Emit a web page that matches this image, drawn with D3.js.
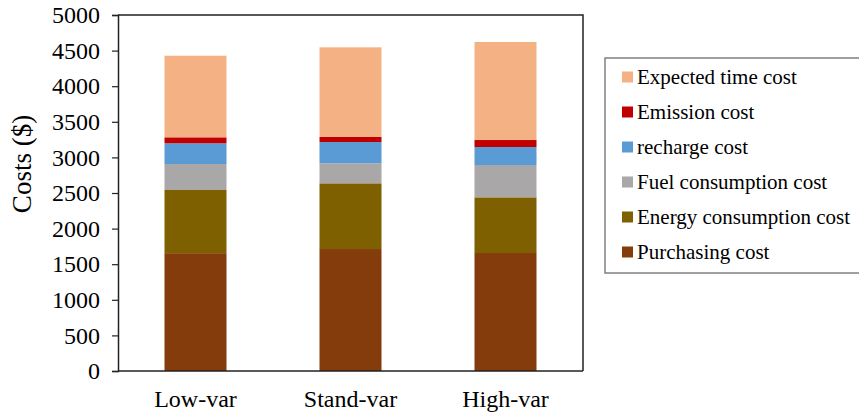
<!DOCTYPE html>
<html>
<head>
<meta charset="utf-8">
<script src="https://cdn.jsdelivr.net/npm/d3@7"></script>
<style>
  html, body { margin: 0; padding: 0; background: #fff; }
  svg { display: block; }
  text { font-family: "Liberation Serif", "Times New Roman", serif; fill: #000; }
</style>
</head>
<body>
<div id="chart"></div>
<script>
// ---- data ----
const categories = ["Low-var", "Stand-var", "High-var"];
const purchasingCost = [1655, 1713, 1657];
const energyCost = [887, 923, 782];
const fuelCost = [365, 281, 454];
const rechargeCost = [291, 299, 253];
const emissionCost = [84, 71, 98];
const expectedTimeCost = [1146, 1259, 1377];
const seriesNames = ["Purchasing cost", "Energy consumption cost", "Fuel consumption cost", "recharge cost", "Emission cost", "Expected time cost"];
const seriesColors = ["#843C0C", "#7F6000", "#A9A7A7", "#5B9BD5", "#C00000", "#F4B183"];
const yTicks = [0, 500, 1000, 1500, 2000, 2500, 3000, 3500, 4000, 4500, 5000];
const yLabel = "Costs ($)";

const seriesValues = [purchasingCost, energyCost, fuelCost, rechargeCost, emissionCost, expectedTimeCost];

const FONT = "'Liberation Serif', 'Times New Roman', serif";
const W = 859, H = 418;
const plot = { left: 118, right: 583, top: 15, bottom: 371 };

const svg = d3.select("#chart").append("svg").attr("width", W).attr("height", H);

const rows = categories.map((c, i) => {
  const r = { category: c };
  seriesNames.forEach((s, k) => r[s] = seriesValues[k][i]);
  return r;
});
const stacked = d3.stack().keys(seriesNames)(rows);

const x = d3.scaleBand().domain(categories).range([plot.left, plot.right]).paddingInner(0.6).paddingOuter(0.3);
const y = d3.scaleLinear().domain([0, 5000]).range([plot.bottom, plot.top]);

// bars
svg.append("g").selectAll("g").data(stacked).join("g")
  .attr("fill", (d, i) => seriesColors[i])
  .selectAll("rect").data(d => d).join("rect")
  .attr("x", d => x(d.data.category))
  .attr("width", x.bandwidth())
  .attr("y", d => y(d[1]))
  .attr("height", d => y(d[0]) - y(d[1]));

// frame (top & right)
svg.append("path")
  .attr("d", `M${plot.left},${plot.top}H${plot.right}V${plot.bottom}`)
  .attr("fill", "none").attr("stroke", "#222").attr("stroke-width", 1.5);

// y axis
const yAxis = svg.append("g").attr("transform", `translate(${plot.left},0)`)
  .call(d3.axisLeft(y).tickValues(yTicks).tickSize(6).tickPadding(12).tickFormat(d3.format("d")));
yAxis.attr("font-family", null);
yAxis.select(".domain").attr("stroke", "#222").attr("stroke-width", 1.5);
yAxis.selectAll(".tick line").attr("stroke", "#222").attr("stroke-width", 1.2);
yAxis.selectAll("text").style("font-size", "24px").style("font-family", FONT).attr("fill", "#000");

// x axis
const xAxis = svg.append("g").attr("transform", `translate(0,${plot.bottom})`)
  .call(d3.axisBottom(x).tickSize(0).tickPadding(19));
xAxis.attr("font-family", null);
xAxis.select(".domain").attr("d", `M${plot.left},0H${plot.right}`).attr("stroke", "#222").attr("stroke-width", 1.5);
xAxis.selectAll("text").style("font-size", "24px").style("font-family", FONT).attr("fill", "#000");

// y label
svg.append("text")
  .attr("transform", `translate(31,164) rotate(-90)`)
  .attr("text-anchor", "middle")
  .style("font-size", "27px").style("font-family", FONT)
  .text(yLabel);

// legend
const lg = svg.append("g");
lg.append("rect")
  .attr("x", 605).attr("y", 58).attr("width", 262).attr("height", 215)
  .attr("fill", "#fff").attr("stroke", "#808080").attr("stroke-width", 1.5);
const legendOrder = seriesNames.map((s, i) => i).reverse();
legendOrder.forEach((k, j) => {
  const cy = 77 + j * 35;
  lg.append("rect").attr("x", 622).attr("y", cy - 5.5).attr("width", 11).attr("height", 11).attr("fill", seriesColors[k]);
  lg.append("text").attr("x", 637).attr("y", cy).attr("dy", "0.35em")
    .style("font-size", "21px").style("font-family", FONT).text(seriesNames[k]);
});
</script>
</body>
</html>
